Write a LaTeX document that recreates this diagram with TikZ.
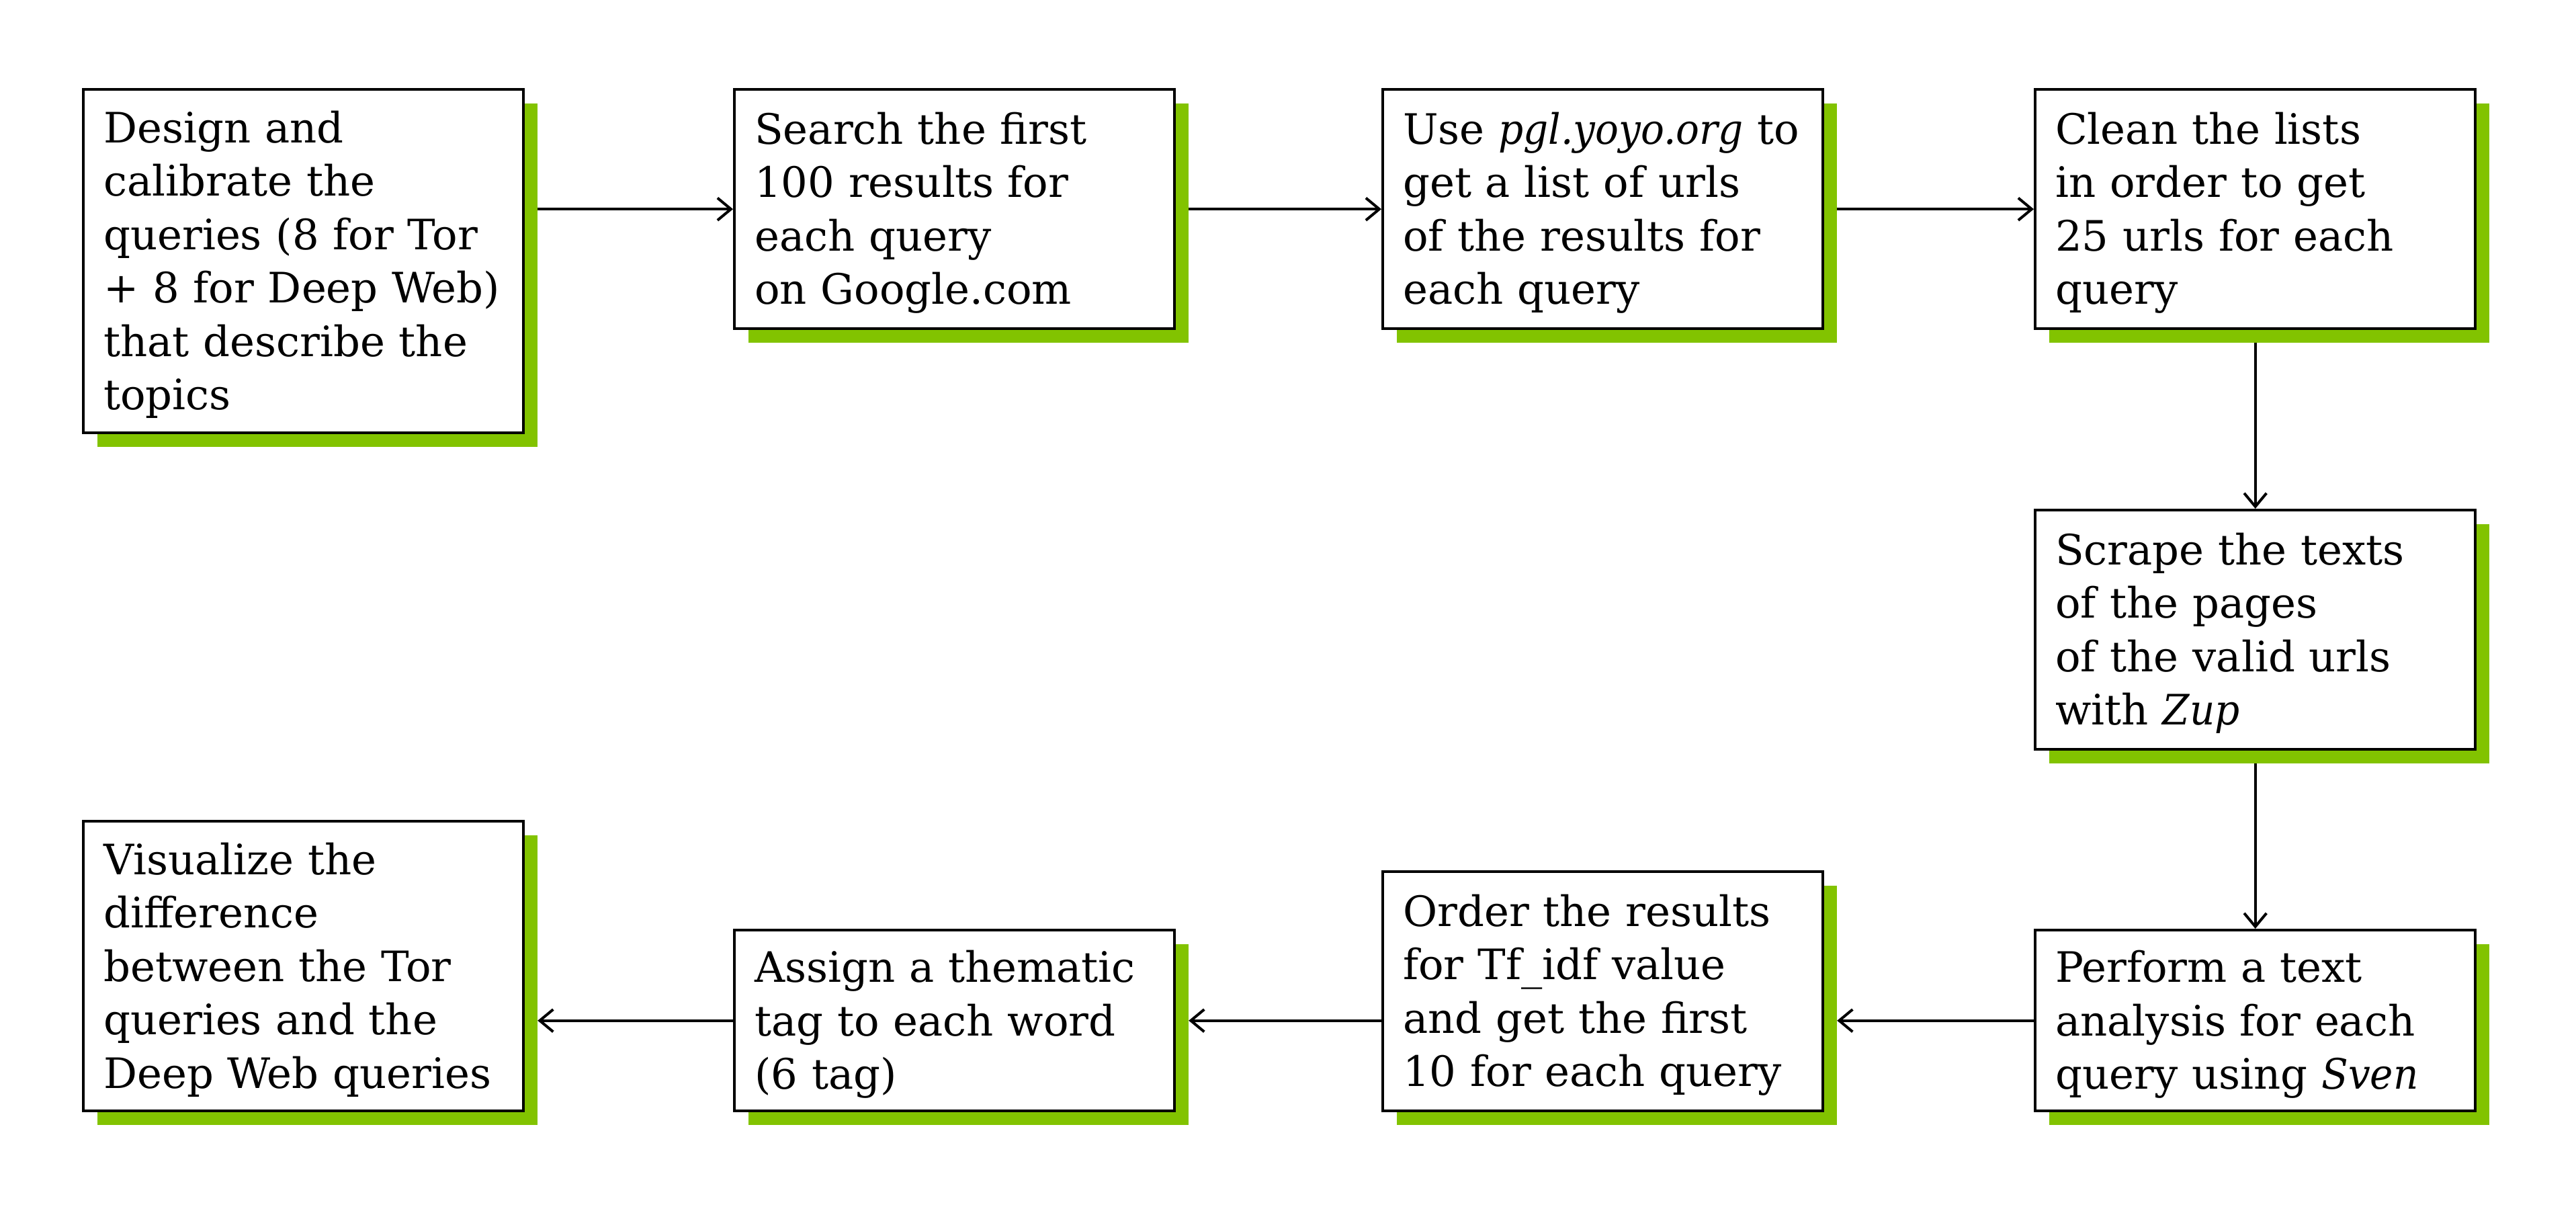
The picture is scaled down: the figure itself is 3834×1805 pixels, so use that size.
\documentclass[tikz,border=0pt]{standalone}
\usepackage{fontspec}
\setmainfont{DejaVu Serif}[ItalicFeatures={FakeStretch=0.93}]
\usetikzlibrary{arrows.meta,shadows}
\definecolor{leaf}{RGB}{130,195,0}
\begin{document}
\begin{tikzpicture}[x=0.25pt,y=-0.25pt,
  box/.style={draw=black, line width=1.1pt, fill=white, anchor=north west,
    minimum width=163.75pt, text width=148.75pt, inner xsep=7.5pt, inner ysep=0pt,
    align=left, font=\fontsize{15.6}{19.875}\selectfont, text height=17.2pt,
    execute at end node=\strut,
    drop shadow={shadow xshift=5.25pt, shadow yshift=-5.25pt, fill=leaf, opacity=1}},
  link/.style={line width=1pt, -{Straight Barb[length=5pt,width=8.3pt,line width=1pt]}}]
\useasboundingbox (0,0) rectangle (3834,1805);

\node[box, minimum height=127.75pt] (b1) at (122,131)
  {Design~and\\calibrate~the\\queries~(8~for~Tor\\+~8~for~Deep~Web)\\that~describe~the\\topics};
\node[box, minimum height=89pt] (b2) at (1091,131)
  {Search~the~first\\100~results~for\\each~query\\on~Google.com};
\node[box, minimum height=89pt] (b3) at (2056,131)
  {Use~\textit{pgl.yoyo.org}~to\\get~a~list~of~urls\\of~the~results~for\\each~query};
\node[box, minimum height=89pt] (b4) at (3027,131)
  {Clean~the~lists\\in~order~to~get\\25~urls~for~each\\query};
\node[box, minimum height=89pt] (b5) at (3027,757)
  {Scrape~the~texts\\of~the~pages\\of~the~valid~urls\\with~\textit{Zup}};
\node[box, minimum height=67.25pt] (b6) at (3027,1382)
  {Perform~a~text\\analysis~for~each\\query~using~\textit{Sven}};
\node[box, minimum height=89pt] (b7) at (2056,1295)
  {Order~the~results\\for~Tf\_idf~value\\and~get~the~first\\10~for~each~query};
\node[box, minimum height=67.25pt] (b8) at (1091,1382)
  {Assign~a~thematic\\tag~to~each~word\\(6~tag)};
\node[box, minimum height=107.75pt] (b9) at (122,1220)
  {Visualize~the\\difference\\between~the~Tor\\queries~and~the\\Deep~Web~queries};

\draw[link] ([xshift=4.7pt]b1.east |- b2.west) -- (b2.west);
\draw[link] ([xshift=4.7pt]b2.east) -- (b3.west);
\draw[link] ([xshift=4.7pt]b3.east) -- (b4.west);
\draw[link] ([yshift=-4.7pt]b4.south) -- (b5.north);
\draw[link] ([yshift=-4.7pt]b5.south) -- (b6.north);
\draw[link] (b6.west) -- ([xshift=4.7pt]b7.east |- b6.west);
\draw[link] (b7.west |- b8.east) -- ([xshift=4.7pt]b8.east);
\draw[link] (b8.west) -- ([xshift=4.7pt]b9.east |- b8.west);
\end{tikzpicture}
\end{document}
